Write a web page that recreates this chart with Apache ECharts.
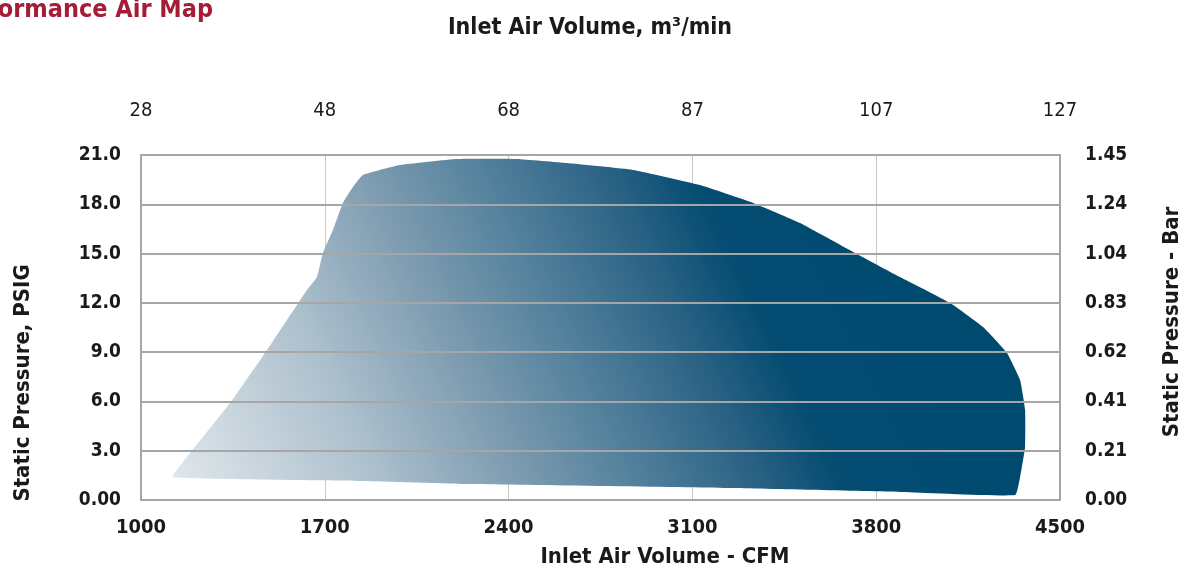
<!DOCTYPE html>
<html>
<head>
<meta charset="utf-8">
<script src="https://cdn.jsdelivr.net/npm/echarts@6/dist/echarts.min.js"></script>
<style>
html,body{margin:0;padding:0;background:#fff;}
#airMap{width:1190px;height:571px;}
</style>
</head>
<body>
<div id="airMap"></div>
<script>
// outline of the performance envelope (CFM, PSIG), clockwise from the lower left tip
var cfmPts  = [1122,1175,1339,1480,1632,1670,1693,1731,1769,1807,1845,1986,2203,2432,2622,2874,3129,3331,3510,3712,3891,4081,4207,4298,4348,4367,4367,4348,4329,3902,3232,2249,1834];
var psigPts = [1.40,2.62,5.90,9.13,12.78,13.57,15.03,16.43,18.08,19.05,19.78,20.39,20.76,20.76,20.51,20.09,19.17,18.08,16.86,15.10,13.57,11.99,10.53,8.95,7.30,5.48,3.23,1.40,0.30,0.49,0.73,0.97,1.16];

// tick labels
var cfmTicks = ['1000','1700','2400','3100','3800','4500'];
var m3Ticks  = ['28','48','68','87','107','127'];
var psigTicks = ['0.00','3.0','6.0','9.0','12.0','15.0','18.0','21.0'];
var barTicks  = ['0.00','0.21','0.41','0.62','0.83','1.04','1.24','1.45'];

var FONT = "'DejaVu Sans Condensed','DejaVu Sans',sans-serif";
var TXT = '#1a1a1a';
var GRID = '#a6a6a6';

var charts = echarts.init(document.getElementById('airMap'));

var gradStops = [
	{offset: 0, color: '#e2e8ed'},
	{offset: 0.25, color: '#adc0cd'},
	{offset: 0.42, color: '#7c9bb0'},
	{offset: 0.56, color: '#52809c'},
	{offset: 0.70, color: '#2a6284'},
	{offset: 0.80, color: '#054c72'},
	{offset: 1, color: '#004a6f'}
];

function renderEnvelope(params, api){
	var pts = [];
	var minX = Infinity, maxX = -Infinity, maxY = -Infinity;
	for(var i=0;i<cfmPts.length;i++){
		var p = api.coord([cfmPts[i], psigPts[i]]);
		pts.push(p);
		minX = Math.min(minX, p[0]);
		maxX = Math.max(maxX, p[0]);
		maxY = Math.max(maxY, p[1]);
	}
	// diagonal shading: light at lower left, dark towards upper right
	var dx = 0.9, dy = -0.436;
	var len = (maxX - minX) * dx * 0.99;
	var fill = new echarts.graphic.LinearGradient(minX, maxY, minX + dx*len, maxY + dy*len, gradStops, true);
	return {
		type: 'polygon',
		shape: {points: pts, smooth: 0.12},
		style: {fill: fill}
	};
}

option = {
	backgroundColor: '#fff',
	animation: false,
	grid: {left: 141, right: 130, top: 155, bottom: 71},
	graphic: [
		{type:'text', x: 213, y: -2, style:{text:'Performance Air Map', align:'right', font:"bold 25px "+FONT, fill:'#a51c36'}},
		{type:'text', x: 590, y: 17, style:{text:'Inlet Air Volume, m³/min', align:'center', font:"bold 23px "+FONT, fill:TXT}},
		{type:'text', x: 665, y: 546, style:{text:'Inlet Air Volume - CFM', align:'center', font:"bold 22px "+FONT, fill:TXT}},
		{type:'text', x: 23, y: 383, rotation: Math.PI/2, style:{text:'Static Pressure, PSIG', align:'center', verticalAlign:'middle', font:"bold 22px "+FONT, fill:TXT}},
		{type:'text', x: 1172, y: 322, rotation: Math.PI/2, style:{text:'Static Pressure - Bar', align:'center', verticalAlign:'middle', font:"bold 22px "+FONT, fill:TXT}}
	],
	xAxis: [
		{
			type: 'value', position: 'bottom', min: 1000, max: 4500, interval: 700, z: 0,
			axisLine: {lineStyle: {color: GRID, width: 2}},
			axisTick: {show: false},
			splitLine: {show: true, lineStyle: {color: '#c8c8c8', width: 1}},
			axisLabel: {margin: 18, fontFamily: FONT, fontWeight: 'bold', fontSize: 20, color: TXT,
				formatter: function(v, i){ return cfmTicks[i]; }}
		},
		{
			type: 'value', position: 'top', min: 1000, max: 4500, interval: 700,
			axisLine: {show: false},
			axisTick: {show: false},
			splitLine: {show: false},
			axisLabel: {margin: 34, fontFamily: FONT, fontSize: 20, color: TXT,
				formatter: function(v, i){ return m3Ticks[i]; }}
		}
	],
	yAxis: [
		{
			type: 'value', position: 'left', min: 0, max: 21, interval: 3, z: 5,
			axisLine: {show: true, lineStyle: {color: GRID, width: 2}},
			axisTick: {show: false},
			splitLine: {show: true, lineStyle: {color: GRID, width: 2}},
			axisLabel: {margin: 20, fontFamily: FONT, fontWeight: 'bold', fontSize: 19, color: TXT,
				formatter: function(v, i){ return psigTicks[i]; }}
		},
		{
			type: 'value', position: 'right', min: 0, max: 21, interval: 3,
			axisLine: {show: true, lineStyle: {color: GRID, width: 2}},
			axisTick: {show: false},
			splitLine: {show: false},
			axisLabel: {margin: 25, fontFamily: FONT, fontWeight: 'bold', fontSize: 19, color: TXT,
				formatter: function(v, i){ return barTicks[i]; }}
		}
	],
	series: [
		{
			type: 'custom',
			name: 'envelope',
			xAxisIndex: 0,
			yAxisIndex: 0,
			z: 2,
			renderItem: renderEnvelope,
			data: [[cfmPts[0], psigPts[0]]],
			silent: true
		}
	]
};
charts.setOption(option);
</script>
</body>
</html>
